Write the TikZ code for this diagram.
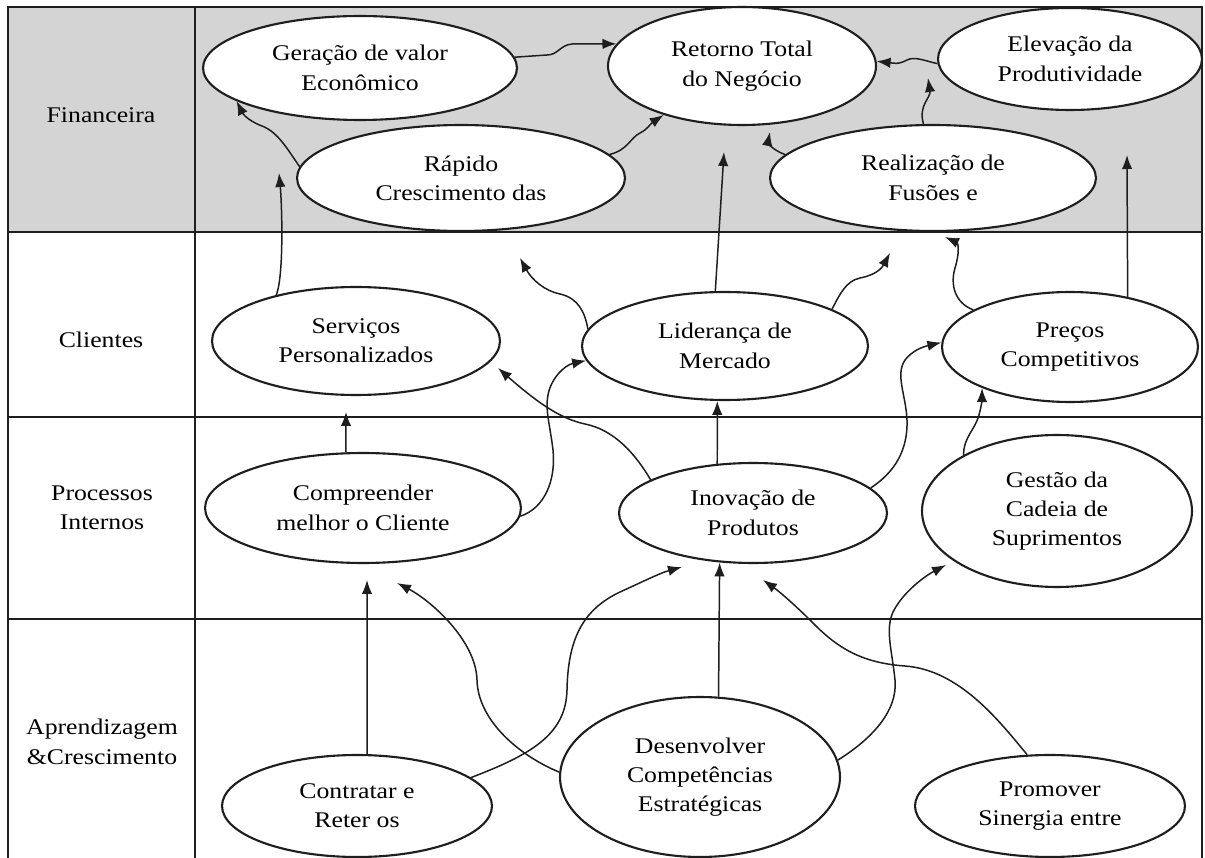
\documentclass[tikz,border=0pt]{standalone}
\usepackage{fontspec}
\setmainfont{Liberation Serif}[FakeStretch=1.15]
\usetikzlibrary{shapes.geometric,arrows.meta}
\definecolor{fingray}{RGB}{212,212,212}
\definecolor{ink}{RGB}{30,30,30}

\begin{document}
\begin{tikzpicture}[x=0.02cm,y=-0.02cm,
  grid/.style={draw=ink,line width=1.1pt},
  ell/.style={ellipse,draw=ink,fill=white,line width=1.2pt,inner sep=0pt,
              align=center,font=\fontsize{12.75}{16.7}\selectfont},
  rowlabel/.style={align=center,inner sep=0pt,font=\fontsize{12.75}{16.7}\selectfont},
  conn/.style={draw=ink,line width=0.85pt,-{Latex[length=0.28cm,width=0.21cm]}}]

\useasboundingbox (0,0) rectangle (1205,858);
\fill[white] (0,0) rectangle (1205,858);

% table: grey financial row, borders and row separators
\fill[fingray] (8,7) rectangle (1202,232);
\draw[grid] (8,858) -- (8,7) -- (1202,7) -- (1202,858);
\draw[grid] (195,7) -- (195,858);
\draw[grid] (8,232) -- (1202,232);
\draw[grid] (8,417) -- (1202,417);
\draw[grid] (8,619) -- (1202,619);

% perspective labels
\node[rowlabel] (lfin) at (101,115) {Financeira};
\node[rowlabel] (lcli) at (101,340) {Clientes};
\node[rowlabel] (lpro) at (102,508) {Processos\\Internos};
\node[rowlabel] (lapr) at (102,742) {Aprendizagem\\\&Crescimento};

% objectives
\node[ell,minimum width=6.28cm,minimum height=2.08cm] (ger) at (360,68) {Geração de valor\\Econômico};
\node[ell,minimum width=5.36cm,minimum height=2.36cm] (ret) at (742,66) {Retorno Total\\do Negócio};
\node[ell,minimum width=5.28cm,minimum height=2.04cm] (ele) at (1070,59) {Elevação da\\Produtividade};
\node[ell,minimum width=6.56cm,minimum height=2.12cm] (rap) at (461,178) {Rápido\\Crescimento das};
\node[ell,minimum width=6.52cm,minimum height=2.12cm] (rea) at (933,178) {Realização de\\Fusões e};
\node[ell,minimum width=5.76cm,minimum height=2.16cm] (ser) at (356,341) {Serviços\\Personalizados};
\node[ell,minimum width=5.72cm,minimum height=2.16cm] (lid) at (725,346) {Liderança de\\Mercado};
\node[ell,minimum width=5.12cm,minimum height=2.20cm] (pre) at (1070,347) {Preços\\Competitivos};
\node[ell,minimum width=6.32cm,minimum height=2.20cm] (com) at (363,508) {Compreender\\melhor o Cliente};
\node[ell,minimum width=5.36cm,minimum height=2.00cm] (ino) at (753,513) {Inovação de\\Produtos};
\node[ell,minimum width=5.40cm,minimum height=3.04cm] (ges) at (1057,511) {Gestão da\\Cadeia de\\Suprimentos};
\node[ell,minimum width=5.40cm,minimum height=2.04cm] (con) at (357,806) {Contratar e\\Reter os};
\node[ell,minimum width=5.60cm,minimum height=3.20cm] (des) at (700,777) {Desenvolver\\Competências\\Estratégicas};
\node[ell,minimum width=5.40cm,minimum height=2.04cm] (pro) at (1050,806) {Promover\\Sinergia entre};

% free arrow tips
\coordinate (t4) at (724,152);
\coordinate (t5) at (770,132);
\coordinate (t6) at (928,78);
\coordinate (t8) at (945,237);
\coordinate (t9) at (1127,155);
\coordinate (t10) at (520,258);
\coordinate (t11) at (890,253);
\coordinate (t12) at (279,173);
\coordinate (t13) at (346,412);
\coordinate (t15) at (498,368);
\coordinate (t19) at (367,580);
\coordinate (t20) at (397,583);
\coordinate (t21) at (682,567);
\coordinate (t23) at (763,580);
\coordinate (t24) at (946,565);

% financial links
\draw[conn] (ger.4) -- (547,55) .. controls (558,55) and (560,45) .. (572,44) -- (ret.170);
\draw[conn] (rap.176) .. controls (288,150) and (278,132) .. (262,126) .. controls (246,120) and (242,112) .. (ger.195);
\draw[conn] (rap.9) .. controls (628,150) and (630,138) .. (640,133) .. controls (648,129) and (650,124) .. (ret.212);
\draw[conn] (rea.171) .. controls (772,150) and (768,142) .. (t5);
\draw[conn] (rea.100) .. controls (918,105) and (931,98) .. (t6);
\draw[conn] (ele.182) .. controls (925,61) and (915,56) .. (907,60) .. controls (898,65) and (893,63) .. (ret.2);

% customer links
\draw[conn] (lid.100) -- (t4);
\draw[conn] (pre.159) .. controls (955,303) and (950,285) .. (955,268) .. controls (960,252) and (958,243) .. (t8);
\draw[conn] (pre.41) -- (t9);
\draw[conn] (lid.173) .. controls (585,312) and (578,298) .. (560,294) .. controls (545,291) and (532,280) .. (t10);
\draw[conn] (lid.19) .. controls (840,294) and (846,281) .. (860,278) .. controls (876,275) and (882,268) .. (t11);
\draw[conn] (ser.150) .. controls (284,275) and (282,205) .. (t12);

% internal process links
\draw[conn] (com.107) -- (t13);
\draw[conn] (com.-3) .. controls (545,508) and (556,480) .. (553,450) .. controls (550,425) and (545,410) .. (548,395) .. controls (551,378) and (565,365) .. (lid.186);
\draw[conn] (ino.162) .. controls (636,455) and (615,430) .. (585,424) .. controls (562,419) and (540,405) .. (t15);
\draw[conn] (ino.126) -- (lid.-98);
\draw[conn] (ino.12) .. controls (895,472) and (908,450) .. (907,420) .. controls (906,395) and (895,375) .. (905,360) .. controls (912,351) and (922,347) .. (pre.178);
\draw[conn] (ges.149) .. controls (963,438) and (975,430) .. (979,415) .. controls (981,408) and (982,400) .. (pre.205);

% learning and growth links
\draw[conn] (con.79) -- (t19);
\draw[conn] (des.178) .. controls (522,757) and (478,722) .. (477,680) .. controls (476,640) and (430,600) .. (t20);
\draw[conn] (con.14) .. controls (530,755) and (566,735) .. (567,690) .. controls (568,640) and (582,610) .. (620,592) .. controls (640,583) and (660,573) .. (t21);
\draw[conn] (des.77) -- (ino.-124);
\draw[conn] (pro.114) .. controls (1000,722) and (960,670) .. (905,666) .. controls (862,663) and (838,648) .. (815,625) .. controls (795,605) and (780,592) .. (t23);
\draw[conn] (des.7) .. controls (870,740) and (898,712) .. (895,680) .. controls (892,650) and (885,630) .. (893,612) .. controls (903,592) and (925,576) .. (t24);
\end{tikzpicture}
\end{document}
